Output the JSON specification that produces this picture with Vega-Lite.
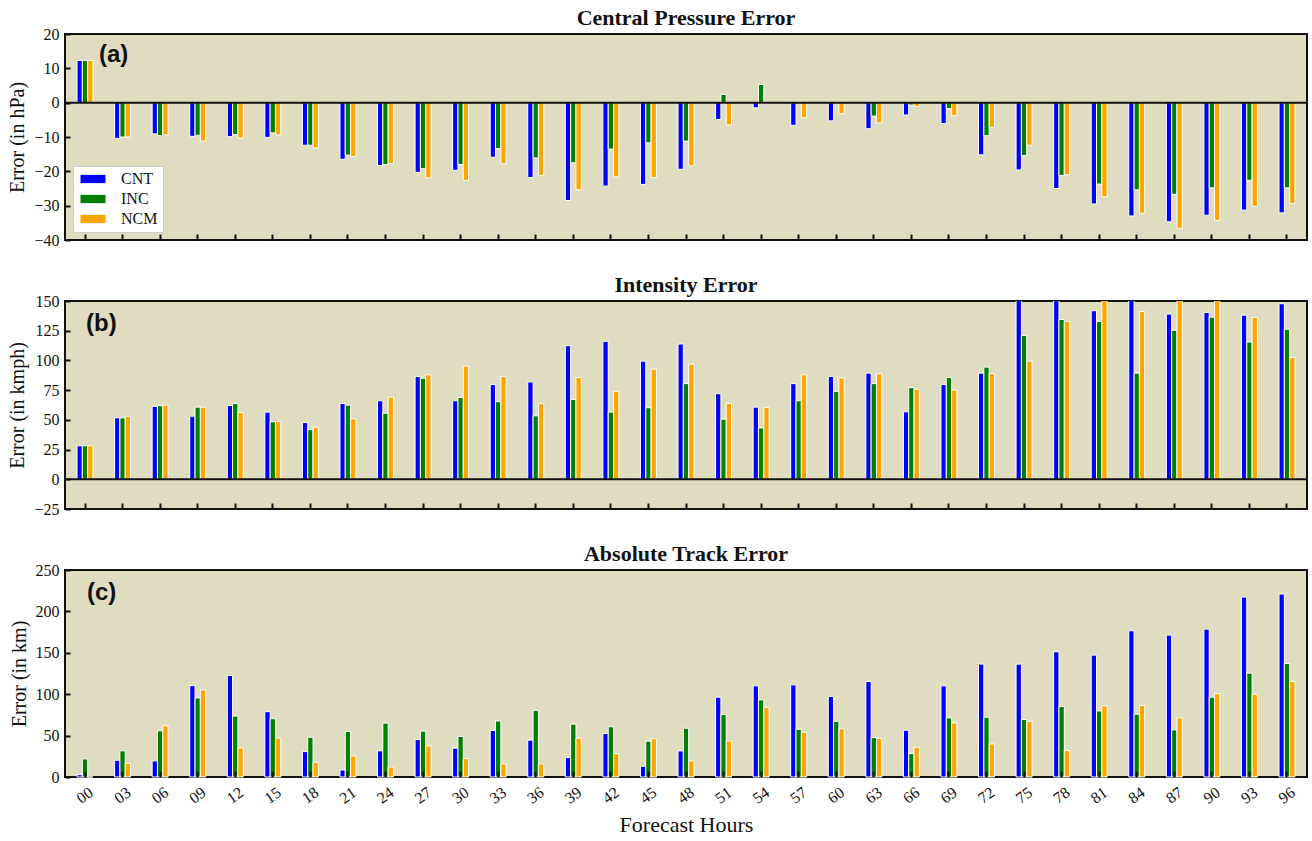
{
"$schema": "https://vega.github.io/schema/vega-lite/v6.json",
"background": "white",
"padding": {"left": 6, "top": 6, "right": 2, "bottom": 0},
"spacing": 24,
"datasets": {
"err": [
{"h":"00","s":"CNT","a":12.3,"b":28.2,"c":2.8},{"h":"00","s":"INC","a":12.3,"b":28.2,"c":21.8},{"h":"00","s":"NCM","a":12.3,"b":28.2,"c":0},
{"h":"03","s":"CNT","a":-10.4,"b":51.7,"c":20.2},{"h":"03","s":"INC","a":-10,"b":51.7,"c":31.6},{"h":"03","s":"NCM","a":-10,"b":53,"c":16.6},
{"h":"06","s":"CNT","a":-9.1,"b":61.3,"c":19.4},{"h":"06","s":"INC","a":-9.6,"b":61.9,"c":55.8},{"h":"06","s":"NCM","a":-9.4,"b":62.4,"c":61.9},
{"h":"09","s":"CNT","a":-9.8,"b":53.1,"c":110.4},{"h":"09","s":"INC","a":-9.5,"b":60.7,"c":95.5},{"h":"09","s":"NCM","a":-11.2,"b":60.7,"c":105.2},
{"h":"12","s":"CNT","a":-9.9,"b":62.1,"c":122.6},{"h":"12","s":"INC","a":-9.3,"b":63.8,"c":73.6},{"h":"12","s":"NCM","a":-10.3,"b":56.2,"c":35.2},
{"h":"15","s":"CNT","a":-10.1,"b":56.5,"c":78.9},{"h":"15","s":"INC","a":-8.8,"b":48.3,"c":70.4},{"h":"15","s":"NCM","a":-9.4,"b":48.6,"c":46.9},
{"h":"18","s":"CNT","a":-12.4,"b":47.7,"c":30.7},{"h":"18","s":"INC","a":-12.4,"b":41.8,"c":48.1},{"h":"18","s":"NCM","a":-13.2,"b":43.8,"c":17.8},
{"h":"21","s":"CNT","a":-16.5,"b":63.8,"c":8.5},{"h":"21","s":"INC","a":-15.3,"b":62.4,"c":55},{"h":"21","s":"NCM","a":-15.7,"b":50.8,"c":25.5},
{"h":"24","s":"CNT","a":-18.3,"b":66.1,"c":31.6},{"h":"24","s":"INC","a":-18,"b":55.6,"c":65.1},{"h":"24","s":"NCM","a":-17.7,"b":69.2,"c":12.1},
{"h":"27","s":"CNT","a":-20.3,"b":86.4,"c":45.3},{"h":"27","s":"INC","a":-19.2,"b":85,"c":55.4},{"h":"27","s":"NCM","a":-21.9,"b":87.9,"c":37.6},
{"h":"30","s":"CNT","a":-19.7,"b":66.1,"c":34.8},{"h":"30","s":"INC","a":-18,"b":68.9,"c":48.9},{"h":"30","s":"NCM","a":-22.6,"b":95.2,"c":22.2},
{"h":"33","s":"CNT","a":-15.9,"b":79.7,"c":56.2},{"h":"33","s":"INC","a":-13.4,"b":65.3,"c":67.6},{"h":"33","s":"NCM","a":-17.8,"b":86.4,"c":15.8},
{"h":"36","s":"CNT","a":-21.8,"b":81.9,"c":44.5},{"h":"36","s":"INC","a":-16.1,"b":53.4,"c":80.5},{"h":"36","s":"NCM","a":-21.2,"b":63.6,"c":15.8},
{"h":"39","s":"CNT","a":-28.5,"b":112.4,"c":23.5},{"h":"39","s":"INC","a":-17.5,"b":67.2,"c":63.9},{"h":"39","s":"NCM","a":-25.4,"b":85.6,"c":46.9},
{"h":"42","s":"CNT","a":-24.3,"b":116.1,"c":52.6},{"h":"42","s":"INC","a":-13.5,"b":56.5,"c":60.7},{"h":"42","s":"NCM","a":-21.6,"b":74,"c":28.3},
{"h":"45","s":"CNT","a":-23.8,"b":99.4,"c":12.9},{"h":"45","s":"INC","a":-11.7,"b":60.2,"c":43.3},{"h":"45","s":"NCM","a":-21.8,"b":92.7,"c":46.1},
{"h":"48","s":"CNT","a":-19.4,"b":113.8,"c":31.5},{"h":"48","s":"INC","a":-11.2,"b":80.5,"c":58.9},{"h":"48","s":"NCM","a":-18.4,"b":96.9,"c":19.4},
{"h":"51","s":"CNT","a":-4.9,"b":72,"c":96.4},{"h":"51","s":"INC","a":2.4,"b":50.6,"c":75.4},{"h":"51","s":"NCM","a":-6.5,"b":63.8,"c":43.5},
{"h":"54","s":"CNT","a":-1.5,"b":60.7,"c":110.1},{"h":"54","s":"INC","a":5.3,"b":43.2,"c":93.1},{"h":"54","s":"NCM","a":-0.2,"b":60.5,"c":84.3},
{"h":"57","s":"CNT","a":-6.6,"b":80.5,"c":111.3},{"h":"57","s":"INC","a":0.2,"b":66.1,"c":57.7},{"h":"57","s":"NCM","a":-4.4,"b":87.9,"c":54},
{"h":"60","s":"CNT","a":-5.3,"b":86.4,"c":97.2},{"h":"60","s":"INC","a":0,"b":74,"c":67.3},{"h":"60","s":"NCM","a":-3.2,"b":85.3,"c":58.1},
{"h":"63","s":"CNT","a":-7.6,"b":89.3,"c":115.3},{"h":"63","s":"INC","a":-3.9,"b":80.5,"c":47.6},{"h":"63","s":"NCM","a":-5.9,"b":88.7,"c":46.8},
{"h":"66","s":"CNT","a":-3.6,"b":56.8,"c":56.5},{"h":"66","s":"INC","a":-0.7,"b":77.1,"c":28.2},{"h":"66","s":"NCM","a":-1.1,"b":75.7,"c":35.9},
{"h":"69","s":"CNT","a":-6.1,"b":79.7,"c":110.1},{"h":"69","s":"INC","a":-1.7,"b":85.6,"c":71.4},{"h":"69","s":"NCM","a":-3.8,"b":75.1,"c":65.3},
{"h":"72","s":"CNT","a":-15.2,"b":89.3,"c":136.3},{"h":"72","s":"INC","a":-9.6,"b":94.4,"c":72.2},{"h":"72","s":"NCM","a":-7.2,"b":89,"c":39.9},
{"h":"75","s":"CNT","a":-19.6,"b":160,"c":136.3},{"h":"75","s":"INC","a":-15.4,"b":120.9,"c":69.4},{"h":"75","s":"NCM","a":-12.4,"b":99.4,"c":67.3},
{"h":"78","s":"CNT","a":-25,"b":160,"c":151.2},{"h":"78","s":"INC","a":-21.2,"b":134.5,"c":85.1},{"h":"78","s":"NCM","a":-21,"b":132.8,"c":31.9},
{"h":"81","s":"CNT","a":-29.5,"b":141.8,"c":147.2},{"h":"81","s":"INC","a":-23.7,"b":132.8,"c":79.8},{"h":"81","s":"NCM","a":-27.4,"b":160,"c":85.9},
{"h":"84","s":"CNT","a":-33,"b":160,"c":176.6},{"h":"84","s":"INC","a":-25.4,"b":89.3,"c":75.8},{"h":"84","s":"NCM","a":-32.2,"b":141.2,"c":86.3},
{"h":"87","s":"CNT","a":-34.7,"b":139,"c":171.4},{"h":"87","s":"INC","a":-26.7,"b":125.4,"c":56.9},{"h":"87","s":"NCM","a":-36.6,"b":160,"c":71.4},
{"h":"90","s":"CNT","a":-32.8,"b":140.4,"c":178.6},{"h":"90","s":"INC","a":-24.8,"b":136.4,"c":96.4},{"h":"90","s":"NCM","a":-34.3,"b":160,"c":100.8},
{"h":"93","s":"CNT","a":-31.3,"b":138.1,"c":217.3},{"h":"93","s":"INC","a":-22.6,"b":115.5,"c":125.4},{"h":"93","s":"NCM","a":-30.2,"b":136.2,"c":100},
{"h":"96","s":"CNT","a":-32.1,"b":147.7,"c":221},{"h":"96","s":"INC","a":-24.8,"b":126.3,"c":137.1},{"h":"96","s":"NCM","a":-29.4,"b":102.5,"c":115.3}
]
},
"resolve": {"legend": {"color": "independent"}},
"vconcat": [
{
"width": 1242, "height": 206,
"title": {"text": "Central Pressure Error"},
"layer": [
{"data": {"name": "err"},
 "mark": {"type": "bar", "stroke": "white", "strokeWidth": 1},
 "encoding": {
  "x": {"field": "h", "type": "ordinal", "scale": {"paddingInner": 0.575, "paddingOuter": 0.32}, "axis": {"labels": false, "title": null, "offset": -6, "tickSize": 6, "tickWidth": 2, "zindex": 1}},
  "xOffset": {"field": "s", "sort": ["CNT", "INC", "NCM"]},
  "y": {"field": "a", "type": "quantitative", "scale": {"domain": [-40, 20], "nice": false}, "axis": {"values": [-40, -30, -20, -10, 0, 10, 20], "tickCount": 12, "labelOverlap": false, "title": "Error (in hPa)"}},
  "color": {"field": "s", "type": "nominal", "scale": {"domain": ["CNT", "INC", "NCM"], "range": ["#0000ff", "#008000", "#ffa500"]},
   "legend": {"title": null, "orient": "bottom-left", "offset": 8, "fillColor": "white", "strokeColor": "#cccccc", "padding": 5, "rowPadding": 4, "symbolType": "M-2,-0.66H2V0.66H-2Z", "symbolSize": 156, "symbolOffset": 7, "symbolStrokeWidth": 0, "labelFont": "Liberation Serif", "labelFontSize": 16, "labelOffset": 20, "labelColor": "#111"}}
 }},
{"data": {"values": [{"z": 0}]}, "mark": {"type": "rule", "color": "#111", "strokeWidth": 2}, "encoding": {"y": {"field": "z", "type": "quantitative"}}},
{"data": {"values": [{"t": "(a)"}]},
 "mark": {"type": "text", "font": "Liberation Sans", "fontWeight": "bold", "fontSize": 24, "align": "left", "baseline": "middle", "dx": 14, "color": "#111"},
 "encoding": {"text": {"field": "t"}, "x": {"datum": "00"}, "y": {"datum": 13.8}}}
]
},
{
"width": 1242, "height": 208,
"title": {"text": "Intensity Error"},
"layer": [
{"data": {"name": "err"},
 "mark": {"type": "bar", "stroke": "white", "strokeWidth": 1, "clip": true},
 "encoding": {
  "x": {"field": "h", "type": "ordinal", "scale": {"paddingInner": 0.575, "paddingOuter": 0.32}, "axis": {"labels": false, "title": null, "offset": -6, "tickSize": 6, "tickWidth": 2, "zindex": 1}},
  "xOffset": {"field": "s", "sort": ["CNT", "INC", "NCM"]},
  "y": {"field": "b", "type": "quantitative", "scale": {"domain": [-25, 150], "nice": false}, "axis": {"values": [-25, 0, 25, 50, 75, 100, 125, 150], "tickCount": 12, "labelOverlap": false, "title": "Error (in kmph)"}},
  "color": {"field": "s", "type": "nominal", "scale": {"domain": ["CNT", "INC", "NCM"], "range": ["#0000ff", "#008000", "#ffa500"]}, "legend": null}
 }},
{"data": {"values": [{"z": 0}]}, "mark": {"type": "rule", "color": "#111", "strokeWidth": 2}, "encoding": {"y": {"field": "z", "type": "quantitative"}}},
{"data": {"values": [{"t": "(b)"}]},
 "mark": {"type": "text", "font": "Liberation Sans", "fontWeight": "bold", "fontSize": 24, "align": "left", "baseline": "middle", "dx": 1, "color": "#111"},
 "encoding": {"text": {"field": "t"}, "x": {"datum": "00"}, "y": {"datum": 131}}}
]
},
{
"width": 1242, "height": 207,
"title": {"text": "Absolute Track Error"},
"layer": [
{"data": {"name": "err"},
 "mark": {"type": "bar", "stroke": "white", "strokeWidth": 1},
 "encoding": {
  "x": {"field": "h", "type": "ordinal", "scale": {"paddingInner": 0.575, "paddingOuter": 0.32}, "axis": {"title": "Forecast Hours", "titleFontSize": 22, "titlePadding": 8, "offset": -6, "tickSize": 6, "tickWidth": 2, "zindex": 1, "labelAngle": -35, "labelAlign": "center", "labelBaseline": "middle", "labelPadding": 18, "labelFontSize": 16, "labelOverlap": false}},
  "xOffset": {"field": "s", "sort": ["CNT", "INC", "NCM"]},
  "y": {"field": "c", "type": "quantitative", "scale": {"domain": [0, 250], "nice": false}, "axis": {"values": [0, 50, 100, 150, 200, 250], "tickCount": 12, "labelOverlap": false, "title": "Error (in km)"}},
  "color": {"field": "s", "type": "nominal", "scale": {"domain": ["CNT", "INC", "NCM"], "range": ["#0000ff", "#008000", "#ffa500"]}, "legend": null}
 }},
{"data": {"values": [{"t": "(c)"}]},
 "mark": {"type": "text", "font": "Liberation Sans", "fontWeight": "bold", "fontSize": 24, "align": "left", "baseline": "middle", "dx": 2, "color": "#111"},
 "encoding": {"text": {"field": "t"}, "x": {"datum": "00"}, "y": {"datum": 222}}}
]
}
],
"config": {
 "view": {"fill": "#e0dcc0", "stroke": "#111111", "strokeWidth": 2},
 "axis": {"labelFont": "Liberation Serif", "titleFont": "Liberation Serif", "labelFontSize": 16, "titleFontSize": 20, "titleFontWeight": "normal", "labelColor": "#111", "titleColor": "#111", "tickColor": "#111", "domain": false, "grid": false, "labelOverlap": false},
 "axisY": {"offset": -5, "tickSize": 5, "tickWidth": 2, "labelPadding": 6, "titlePadding": 6},
 "title": {"font": "Liberation Serif", "fontSize": 22, "fontWeight": "bold", "offset": -4, "color": "#111"}
}
}
